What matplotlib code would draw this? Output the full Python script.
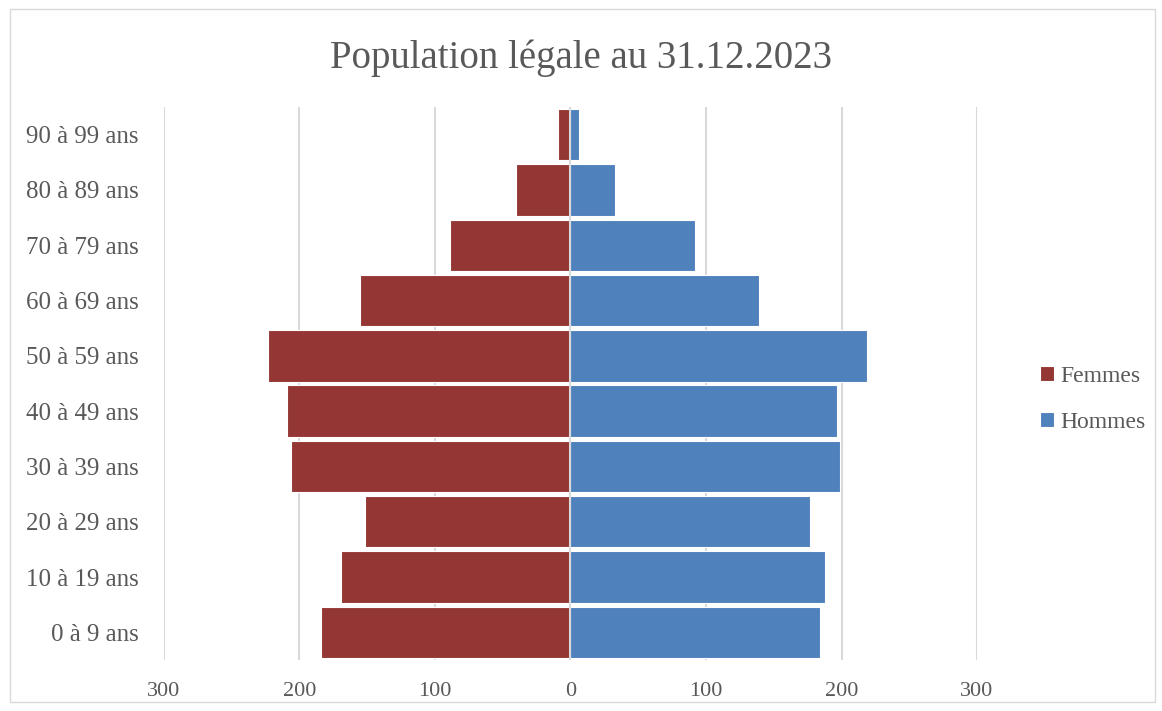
import matplotlib.pyplot as plt
import numpy as np

ages = ['0 à 9 ans', '10 à 19 ans', '20 à 29 ans', '30 à 39 ans', '40 à 49 ans',
        '50 à 59 ans', '60 à 69 ans', '70 à 79 ans', '80 à 89 ans', '90 à 99 ans']
femmes = [184, 169, 152, 206, 209, 223, 155, 89, 40, 9]
hommes = [184, 188, 177, 199, 197, 219, 139, 92, 33, 6]
xticks = [-300, -200, -100, 0, 100, 200, 300]
xlabels = ['300', '200', '100', '0', '100', '200', '300']

red = '#943634'
blue = '#4f81bd'
grey = '#595959'

plt.rcParams['font.family'] = ['Liberation Serif', 'DejaVu Serif']

fig = plt.figure(figsize=(11.62, 7.11), dpi=100)
ax = fig.add_axes([0.1411, 0.0717, 0.6997, 0.7778])

y = np.arange(len(ages))
ax.barh(y, [-v for v in femmes], height=0.93, color=red, edgecolor='white', linewidth=0.8, label='Femmes', zorder=2)
ax.barh(y, hommes, height=0.93, color=blue, edgecolor='white', linewidth=0.8, label='Hommes', zorder=2)
ax.axvline(0, color='#d9d9d9', linewidth=1.5, zorder=3)

ax.set_xlim(-300, 300)
ax.set_ylim(-0.5, len(ages) - 0.5)
ax.set_xticks(xticks)
ax.set_xticklabels(xlabels)
ax.set_yticks(y)
ax.set_yticklabels(ages)
ax.tick_params(axis='both', length=0, colors=grey)
ax.tick_params(axis='x', pad=16, labelsize=16)
ax.tick_params(axis='y', pad=18, labelsize=18)
ax.grid(axis='x', color='#d9d9d9', linewidth=1.5, zorder=0)
ax.set_axisbelow(True)
for s in ax.spines.values():
    s.set_visible(False)

fig.suptitle('Population légale au 31.12.2023', y=0.945, fontsize=28, color=grey)
fig.legend(loc='center left', bbox_to_anchor=(0.877, 0.438), frameon=False,
           fontsize=17, labelcolor=grey, handlelength=0.6, handleheight=0.6,
           handletextpad=0.25, labelspacing=1.05)

fig.patches.append(plt.Rectangle((0.009, 0.012), 0.985, 0.975, transform=fig.transFigure,
                                 fill=False, edgecolor='#d9d9d9', linewidth=1))

plt.savefig('out.png')
